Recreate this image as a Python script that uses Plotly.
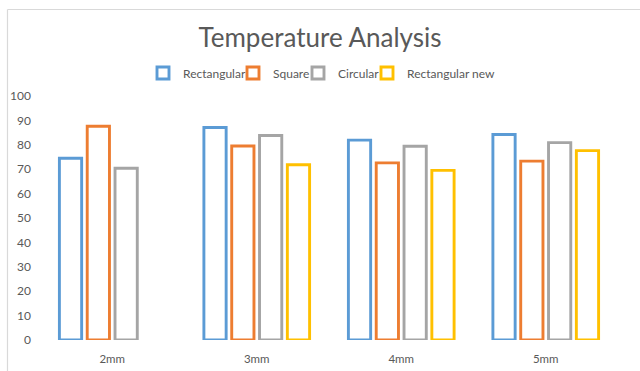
import plotly.graph_objects as go

categories = ["2mm", "3mm", "4mm", "5mm"]
series_names = ["Rectangular", "Square", "Circular", "Rectangular new"]
rectangular = [74.5, 87.1, 81.9, 84.2]
square = [87.6, 79.5, 72.6, 73.3]
circular = [70.4, 83.8, 79.4, 80.9]
rectangular_new = [None, 71.8, 69.5, 77.6]
colors = ["#5B9BD5", "#ED7D31", "#A5A5A5", "#FFC000"]

W, H = 640, 371
L, R, T, B = 40, 22, 96, 31

legend_ids = ["legend", "legend2", "legend3", "legend4"]
legend_text_x = [183, 273, 338, 407]  # pixel x where each legend label starts

fig = go.Figure()
for name, vals, c, lg in zip(series_names, [rectangular, square, circular, rectangular_new], colors, legend_ids):
    fig.add_trace(go.Bar(
        x=categories, y=vals, name=name, legend=lg, showlegend=True,
        marker=dict(color="white", line=dict(color=c, width=2.9)),
    ))

pw = W - L - R
ph = H - T - B
def px_x(p):
    return (p - L) / pw
def px_y(p):
    return (H - B - p) / ph

# chart-area frame (light gray)
fig.add_shape(type="line", xref="paper", yref="paper",
              x0=px_x(7.5), x1=px_x(660), y0=px_y(9.5), y1=px_y(9.5),
              line=dict(color="#D9D9D9", width=1.2))
fig.add_shape(type="line", xref="paper", yref="paper",
              x0=px_x(7.5), x1=px_x(7.5), y0=px_y(9.5), y1=px_y(400),
              line=dict(color="#D9D9D9", width=1.2))

legend_layout = {}
for lg, tx in zip(legend_ids, legend_text_x):
    legend_layout[lg] = dict(
        xref="container", yref="container",
        x=(tx - 40) / W, xanchor="left",
        y=1 - 73 / H, yanchor="middle",
        orientation="h", bgcolor="rgba(0,0,0,0)",
        font=dict(size=12, color="#595959"), itemwidth=30,
    )

fig.update_layout(
    width=W, height=H,
    showlegend=True,
    margin=dict(l=L, r=R, t=T, b=B, autoexpand=False),
    paper_bgcolor="white", plot_bgcolor="white",
    font=dict(family="Lato, Open Sans, sans-serif", color="#595959", size=12),
    title=dict(text="Temperature Analysis", x=0.5, xanchor="center",
               y=1 - 38 / H, yanchor="middle",
               font=dict(size=26, color="#595959", family="Lato, Open Sans, sans-serif")),
    barmode="group", bargap=0.23, bargroupgap=0.2,
    xaxis=dict(showline=False, ticks="", tickfont=dict(size=11.5, color="#595959"),
               showgrid=False, ticklabelstandoff=10),
    yaxis=dict(range=[0, 100], dtick=10, showgrid=False, showline=False, zeroline=False,
               tickfont=dict(size=12, color="#595959"), ticks="", ticklabelstandoff=8),
    **legend_layout,
)

fig.write_html("out.html", config={"displayModeBar": False},
               post_script="document.body.style.margin='0';document.body.style.padding='0';")
